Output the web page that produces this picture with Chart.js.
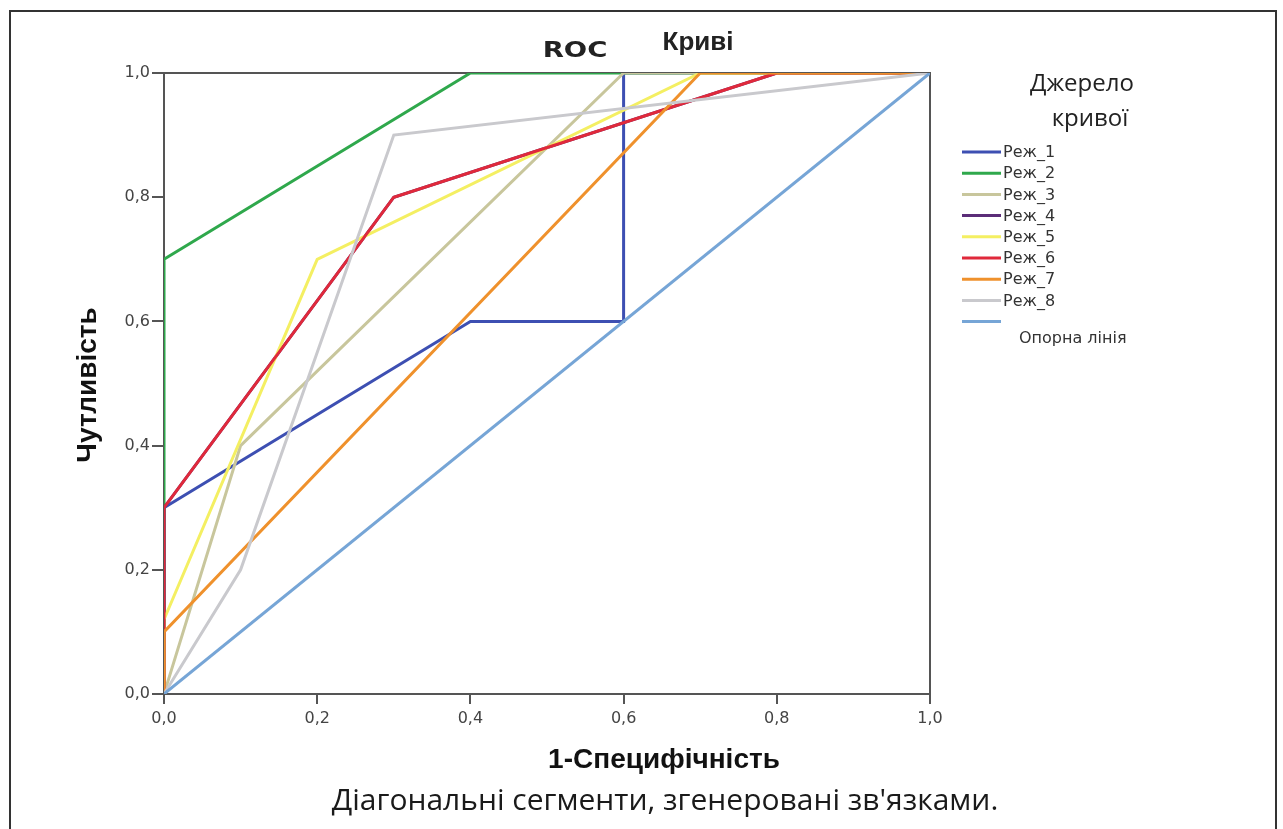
<!DOCTYPE html>
<html lang="uk">
<head>
<meta charset="utf-8">
<title>ROC Криві</title>
<script src="https://cdn.jsdelivr.net/npm/chart.js@4/dist/chart.umd.min.js"></script>
<style>
    html, body { margin: 0; padding: 0; background: #fff; }
    #wrap { width: 1283px; height: 829px; position: relative; }
</style>
</head>
<body>
<div id="wrap"><canvas id="roc" width="1283" height="829"></canvas></div>
<script>
// ROC curves, one series per mode, plus the reference diagonal
var seriesNames = ['Реж_1', 'Реж_2', 'Реж_3', 'Реж_4', 'Реж_5', 'Реж_6', 'Реж_7', 'Реж_8'];
var refName = 'Опорна лінія';

// [1 - specificity, sensitivity]
var rej1 = [[0, 0], [0, 0.3], [0.4, 0.6], [0.6, 0.6], [0.6, 1], [1, 1]];
var rej2 = [[0, 0], [0, 0.7], [0.4, 1], [1, 1]];
var rej3 = [[0, 0], [0.1, 0.4], [0.6, 1], [1, 1]];
var rej4 = [[0, 0], [0, 0.3], [0.3, 0.8], [0.8, 1], [1, 1]];
var rej5 = [[0, 0], [0, 0.12], [0.2, 0.7], [0.7, 1], [1, 1]];
var rej6 = [[0, 0], [0, 0.3], [0.3, 0.8], [0.8, 1], [1, 1]];
var rej7 = [[0, 0], [0, 0.1], [0.7, 1], [1, 1]];
var rej8 = [[0, 0], [0.1, 0.2], [0.3, 0.9], [1, 1]];
var refLine = [[0, 0], [1, 1]];

var tickValues = [0, 0.2, 0.4, 0.6, 0.8, 1.0];
var tickLabels = ['0,0', '0,2', '0,4', '0,6', '0,8', '1,0'];

var seriesData = [rej1, rej2, rej3, rej4, rej5, rej6, rej7, rej8];
var seriesColors = ['#3d4fb2', '#2fa84c', '#c8c69c', '#5b2d78', '#f4ef62', '#e0293b', '#ef912c', '#c9c9cd'];
var refColor = '#76a5d6';

function toPoints(arr) {
    return arr.map(function (p) { return { x: p[0], y: p[1] }; });
}

var datasets = seriesData.map(function (arr, i) {
    return {
        label: seriesNames[i],
        data: toPoints(arr),
        borderColor: seriesColors[i],
        borderWidth: 3,
        showLine: true,
        pointRadius: 0,
        order: 20 - i
    };
});
datasets.push({
    label: refName,
    data: toPoints(refLine),
    borderColor: refColor,
    borderWidth: 3,
    showLine: true,
    pointRadius: 0,
    order: 1
});

var FRAME = '#555';

// frame, titles, legend and footnote drawn around the plot
var decor = {
    id: 'decor',
    beforeDatasetsDraw: function (chart) {
        var ctx = chart.ctx, a = chart.chartArea;
        ctx.save();
        ctx.strokeStyle = FRAME;
        ctx.lineWidth = 2;
        ctx.beginPath();
        ctx.moveTo(a.left, a.top);
        ctx.lineTo(a.right, a.top);
        ctx.lineTo(a.right, a.bottom);
        ctx.stroke();
        ctx.restore();
    },
    afterDraw: function (chart) {
        var ctx = chart.ctx;
        ctx.save();

        // outer border
        ctx.strokeStyle = '#333';
        ctx.lineWidth = 2;
        ctx.strokeRect(10, 11, 1266, 840);

        // title
        ctx.fillStyle = '#222';
        ctx.textAlign = 'center';
        ctx.textBaseline = 'middle';
        ctx.save();
        ctx.translate(575, 51);
        ctx.scale(1.25, 1);
        ctx.font = 'bold 22px "DejaVu Sans", sans-serif';
        ctx.fillText('ROC', 0, 0);
        ctx.restore();
        ctx.font = 'bold 26px "Liberation Sans", Arial, sans-serif';
        ctx.fillText('Криві', 698, 43);

        // axis titles
        ctx.fillStyle = '#111';
        ctx.font = 'bold 28px "Liberation Sans", Arial, sans-serif';
        ctx.fillText('1-Специфічність', 664, 760);
        ctx.save();
        ctx.translate(88, 385);
        ctx.rotate(-Math.PI / 2);
        ctx.fillText('Чутливість', 0, 0);
        ctx.restore();

        // footnote
        ctx.font = '30px "Open Sans", "Noto Sans", sans-serif';
        ctx.fillStyle = '#1a1a1a';
        ctx.fillText("Діагональні сегменти, згенеровані зв'язками.", 665, 801);

        // legend
        ctx.font = '24px "Open Sans", "Noto Sans", sans-serif';
        ctx.fillStyle = '#222';
        ctx.fillText('Джерело', 1082, 84);
        ctx.fillText('кривої', 1090, 119);

        ctx.textAlign = 'left';
        ctx.lineWidth = 3;
        var rowY = 152, step = 21.2;
        chart.data.datasets.forEach(function (ds, i) {
            var y = rowY + i * step;
            ctx.strokeStyle = ds.borderColor;
            ctx.beginPath();
            ctx.moveTo(962, y);
            ctx.lineTo(1001, y);
            ctx.stroke();
            ctx.fillStyle = '#333';
            ctx.font = '16px "DejaVu Sans", sans-serif';
            if (ds.label === refName) {
                ctx.fillText(ds.label, 1019, y + 17);
            } else {
                ctx.fillText(ds.label, 1003, y + 1);
            }
        });
        ctx.restore();
    }
};

function commaTicks(scale) {
    scale.ticks = tickValues.map(function (v) { return { value: v }; });
}

var tickFont = { family: '"DejaVu Sans", sans-serif', size: 16 };

new Chart(document.getElementById('roc'), {
    type: 'scatter',
    data: { datasets: datasets },
    options: {
        responsive: false,
        animation: false,
        layout: { padding: { top: 73, right: 353, left: 0, bottom: 0 } },
        plugins: {
            legend: { display: false },
            tooltip: { enabled: false },
            title: { display: false }
        },
        scales: {
            x: {
                type: 'linear',
                min: 0,
                max: 1,
                afterBuildTicks: commaTicks,
                afterFit: function (s) { s.height = 135; },
                grid: { drawOnChartArea: false, tickLength: 10, color: FRAME, lineWidth: 2 },
                border: { color: FRAME, width: 2 },
                ticks: {
                    padding: 5,
                    color: '#444',
                    font: tickFont,
                    callback: function (v) { return tickLabels[tickValues.indexOf(v)]; }
                }
            },
            y: {
                type: 'linear',
                min: 0,
                max: 1,
                afterBuildTicks: commaTicks,
                afterFit: function (s) { s.width = 164; },
                grid: { drawOnChartArea: false, tickLength: 12, color: FRAME, lineWidth: 2 },
                border: { color: FRAME, width: 2 },
                ticks: {
                    padding: 2,
                    color: '#444',
                    font: tickFont,
                    callback: function (v) { return tickLabels[tickValues.indexOf(v)]; }
                }
            }
        }
    },
    plugins: [decor]
});
</script>
</body>
</html>
